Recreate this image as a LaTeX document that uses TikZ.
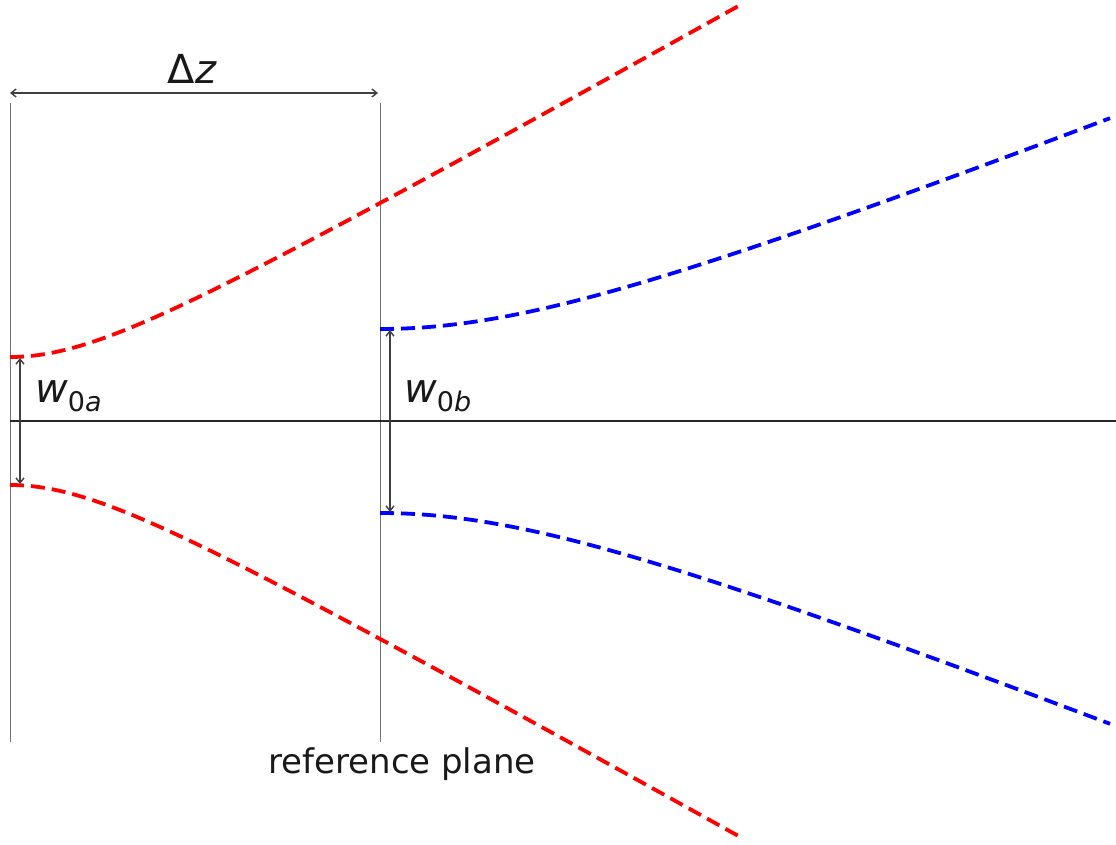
\documentclass[tikz,border=0pt]{standalone}
\usepackage{fontspec}
\setmainfont{DejaVu Sans}
\usetikzlibrary{arrows.meta}
\tikzset{
  beamred/.style={draw={rgb,255:red,255;green,0;blue,0}, line width=3.8pt, dash pattern=on 14pt off 7pt},
  beamblue/.style={draw={rgb,255:red,0;green,0;blue,255}, line width=3.8pt, dash pattern=on 14pt off 7pt},
  plane/.style={draw=black!55, line width=1pt},
  axisline/.style={draw=black!85, line width=1.3pt},
  dim/.style={draw=black!75, line width=1.4pt, {Straight Barb[length=5pt,width=8pt]}-{Straight Barb[length=5pt,width=8pt]}},
  lbl/.style={inner sep=0pt, text=black!90},
}
\newcommand{\msub}[2]{{\itshape #1}\raisebox{-9pt}{\fontsize{27}{27}\selectfont #2}}
\begin{document}
\begin{tikzpicture}[x=1pt,y=-1pt]
\useasboundingbox (0,0) rectangle (1116,845);
% planes and axis
\coordinate (pa1) at (10,103); \coordinate (pa2) at (10,742);
\coordinate (pb1) at (380,103); \coordinate (pb2) at (380,742);
\coordinate (ax1) at (10,421); \coordinate (ax2) at (1116,421);
\draw[plane] (pa1) -- (pa2);
\draw[plane] (pb1) -- (pb2);
\draw[axisline] (ax1) -- (ax2);
% beams
\draw[beamred] plot[domain=10:740, samples=160, smooth] (\x, {421-64*sqrt(1+((\x-10)/113.7)^2)});
\draw[beamred] plot[domain=10:740, samples=160, smooth] (\x, {421+64*sqrt(1+((\x-10)/113.7)^2)});
\draw[beamblue] plot[domain=380:1110, samples=160, smooth] (\x, {421-92*sqrt(1+((\x-380)/232.8)^2)});
\draw[beamblue] plot[domain=380:1110, samples=160, smooth] (\x, {421+92*sqrt(1+((\x-380)/232.8)^2)});
% dimension arrows
\coordinate (dz1) at (10,93); \coordinate (dz2) at (378,93);
\draw[dim] (dz1) -- (dz2);
\coordinate (wa1) at (20,358); \coordinate (wa2) at (20,484);
\draw[dim] (wa1) -- (wa2);
\coordinate (wb1) at (390,330); \coordinate (wb2) at (390,512);
\draw[dim] (wb1) -- (wb2);
% labels
\node[lbl, anchor=base] (dzl) at (192,84) {\fontsize{40}{40}\selectfont Δ{\itshape z}};
\node[lbl, anchor=base west] (w0a) at (35,402) {\fontsize{40}{40}\selectfont\msub{w}{0{\itshape a}}};
\node[lbl, anchor=base west] (w0b) at (404,402) {\fontsize{40}{40}\selectfont\msub{w}{0{\itshape b}}};
\node[lbl, anchor=base] (rp) at (402,773) {\fontsize{34}{34}\selectfont reference plane};
\end{tikzpicture}
\end{document}
